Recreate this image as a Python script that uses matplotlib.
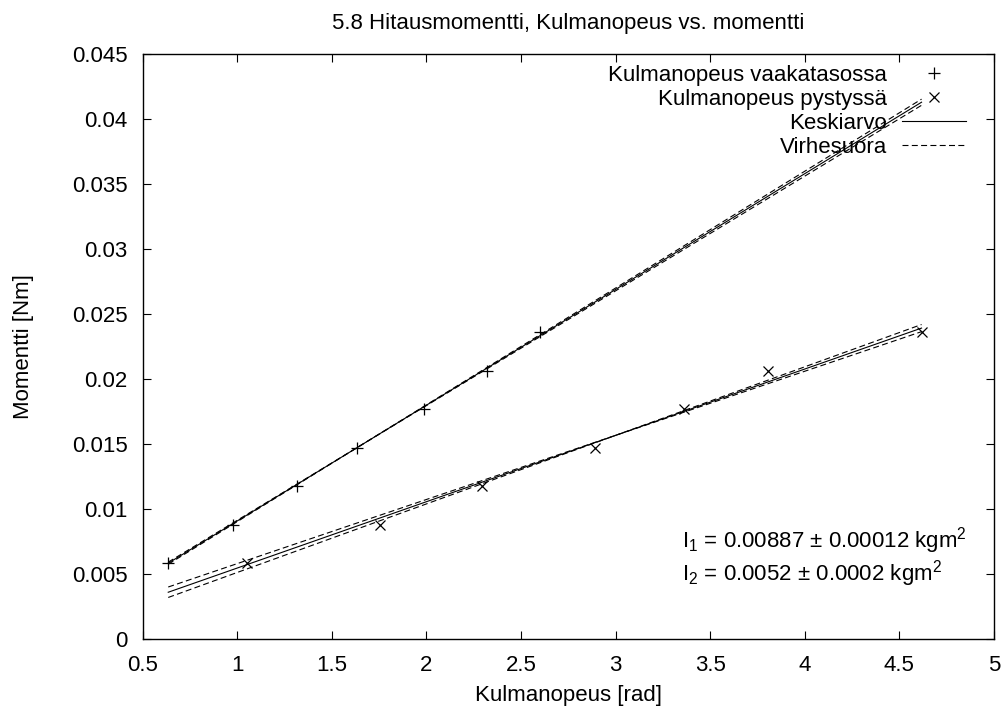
import numpy as np
import matplotlib
matplotlib.use("Agg")
from matplotlib import pyplot as plt

plt.rcParams['font.family'] = ['Liberation Sans', 'DejaVu Sans']
plt.rcParams['mathtext.fontset'] = 'custom'
plt.rcParams['mathtext.rm'] = 'Liberation Sans'
plt.rcParams['mathtext.it'] = 'Liberation Sans:italic'
plt.rcParams['lines.scale_dashes'] = False

# mittaukset
x_vaaka = [0.635, 0.976, 1.314, 1.631, 1.988, 2.321, 2.600]
y_vaaka = [0.0059, 0.0088, 0.0118, 0.0147, 0.0177, 0.0206, 0.0236]
x_pysty = [1.050, 1.754, 2.292, 2.891, 3.362, 3.807, 4.617]
y_pysty = [0.0059, 0.0088, 0.0118, 0.0147, 0.0177, 0.0206, 0.0236]

# sovitukset: kulmakerroin, vakio, kulmakertoimen virhe, kiertopiste
fit_slope = [0.0089, 0.0051]
fit_const = [0.00020, 0.00038]
fit_err = [0.00008, 0.00017]
fit_pivot = [1.65, 3.0]

xticks = [0.5, 1, 1.5, 2, 2.5, 3, 3.5, 4, 4.5, 5]
yticks = [0, 0.005, 0.01, 0.015, 0.02, 0.025, 0.03, 0.035, 0.04, 0.045]

fs = 16
fig = plt.figure(figsize=(10.07, 7.12), dpi=100)
ax = fig.add_axes([0.1417, 0.1021, 0.9871 - 0.1417, 0.9242 - 0.1021])

xx = np.linspace(min(x_vaaka + x_pysty), max(x_vaaka + x_pysty), 200)
dash = (0, (4.3, 2.4))

ax.plot(x_vaaka, y_vaaka, ls='none', marker='+', ms=8, mew=0.9, color='k',
        label='Kulmanopeus vaakatasossa')
ax.plot(x_pysty, y_pysty, ls='none', marker='x', ms=7, mew=0.9, color='k',
        label='Kulmanopeus pystyssä')
for i in range(2):
    ym = fit_slope[i]*xx + fit_const[i]
    lab1 = 'Keskiarvo' if i == 0 else None
    lab2 = 'Virhesuora' if i == 0 else None
    ax.plot(xx, ym, color='k', lw=0.8, label=lab1)
    d = fit_err[i]*(xx - fit_pivot[i])
    ax.plot(xx, ym + d, color='k', lw=0.8, ls=dash, label=lab2)
    ax.plot(xx, ym - d, color='k', lw=0.8, ls=dash)

ax.set_xlim(0.5, 5)
ax.set_ylim(0, 0.045)
ax.set_xticks(xticks)
ax.set_xticklabels([('%g' % t) for t in xticks])
ax.set_yticks(yticks)
ax.set_yticklabels([('%g' % t) for t in yticks])
ax.tick_params(direction='in', length=5.5, width=0.8, top=True, right=True,
               labelsize=fs)
ax.tick_params(axis='x', pad=11)
ax.tick_params(axis='y', pad=11)
for s in ax.spines.values():
    s.set_linewidth(1.0)

ax.set_title('5.8 Hitausmomentti, Kulmanopeus vs. momentti', fontsize=fs, pad=18)
ax.set_xlabel('Kulmanopeus [rad]', fontsize=fs, labelpad=7)
ax.set_ylabel('Momentti [Nm]', fontsize=fs, labelpad=27)

leg = ax.legend(loc='upper right', bbox_to_anchor=(966/1007, 1 - 65/712),
                bbox_transform=fig.transFigure, frameon=False, markerfirst=False,
                fontsize=fs, handlelength=2.9, handletextpad=0.65,
                labelspacing=0.13, borderpad=0, borderaxespad=0)
for t in leg.get_texts():
    t.set_ha('right')

ax.text(0.634, 0.168, 'I$_1$ = 0.00887 ± 0.00012 kgm$^2$', transform=ax.transAxes,
        fontsize=fs, va='center', ha='left')
ax.text(0.634, 0.113, 'I$_2$ = 0.0052 ± 0.0002 kgm$^2$', transform=ax.transAxes,
        fontsize=fs, va='center', ha='left')

fig.savefig('out.png', dpi=100)
